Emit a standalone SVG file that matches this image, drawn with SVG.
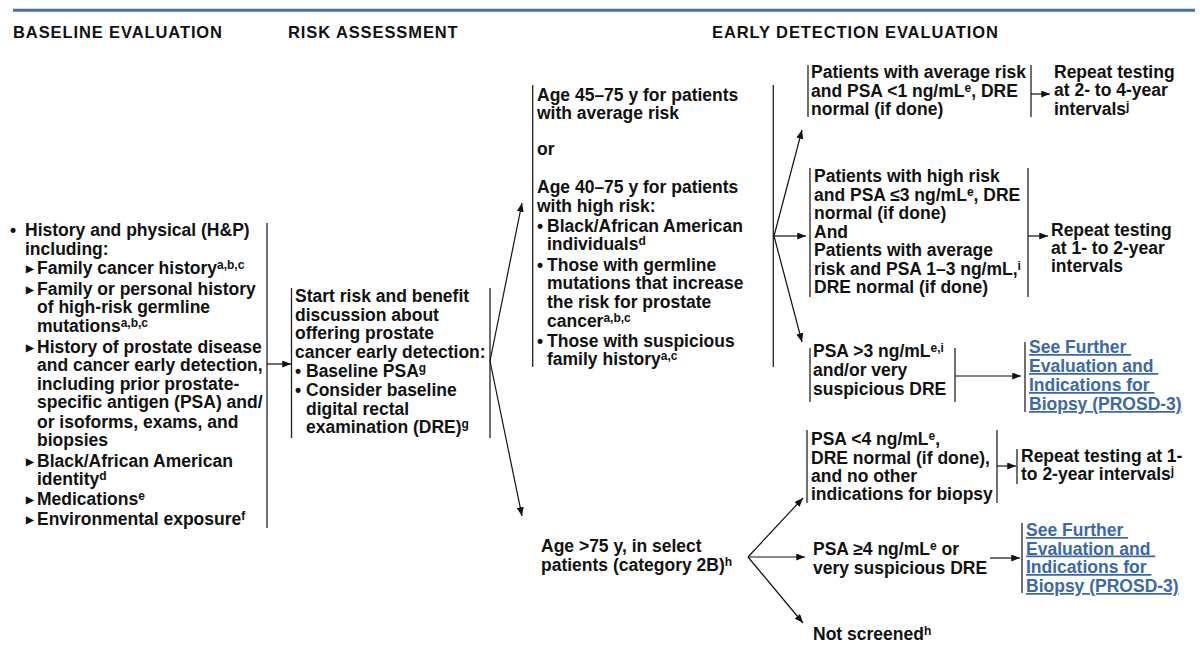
<svg xmlns="http://www.w3.org/2000/svg" width="1200" height="655" viewBox="0 0 1200 655">
<style>
text{font-family:"Liberation Sans",Arial,Helvetica,sans-serif;font-weight:bold;font-size:17.5px;fill:#111;}
.h{font-size:16.5px;letter-spacing:0.9px;}
.s{font-size:12px;}
.tri{font-size:9.5px;}
.lk{fill:#3a68a8;text-decoration:underline;}
.bar{stroke:#222;stroke-width:1.3;fill:none;}
.c{stroke:#111;stroke-width:1.2;fill:none;marker-end:url(#ah);}
</style>
<defs>
<marker id="ah" viewBox="0 0 10 8" markerWidth="9" markerHeight="7" refX="10" refY="4" orient="auto" markerUnits="userSpaceOnUse">
<path d="M0,0 L10,4 L0,8 z" fill="#111"/>
</marker>
</defs>
<rect width="1200" height="655" fill="#fff"/>
<line x1="13" y1="10.3" x2="1195" y2="10.3" stroke="#4a72a6" stroke-width="3"/>
<g id="headers">
<text class="h" x="13" y="38">BASELINE EVALUATION</text>
<text class="h" x="288" y="38">RISK ASSESSMENT</text>
<text class="h" x="712" y="38">EARLY DETECTION EVALUATION</text>
</g>
<g id="baseline-evaluation">
<line class="bar" x1="267" y1="223" x2="267" y2="528"/>
<text x="10" y="236">•</text><text x="25" y="236">History and physical (H&amp;P)</text>
<text x="25" y="255">including:</text>
<text class="tri" x="25.5" y="272">▶</text><text x="37" y="274">Family cancer history<tspan class="s" dy="-5">a,b,c</tspan></text>
<text class="tri" x="25.5" y="293">▶</text><text x="37" y="295">Family or personal history</text>
<text x="37" y="313">of high-risk germline</text>
<text x="37" y="332">mutations<tspan class="s" dy="-5">a,b,c</tspan></text>
<text class="tri" x="25.5" y="351">▶</text><text x="37" y="353">History of prostate disease</text>
<text x="37" y="371">and cancer early detection,</text>
<text x="37" y="390">including prior prostate-</text>
<text x="37" y="408">specific antigen (PSA) and/</text>
<text x="37" y="428">or isoforms, exams, and</text>
<text x="37" y="446">biopsies</text>
<text class="tri" x="25.5" y="465">▶</text><text x="37" y="467">Black/African American</text>
<text x="37" y="485">identity<tspan class="s" dy="-5">d</tspan></text>
<text class="tri" x="25.5" y="503">▶</text><text x="37" y="505">Medications<tspan class="s" dy="-5">e</tspan></text>
<text class="tri" x="25.5" y="523">▶</text><text x="37" y="525">Environmental exposure<tspan class="s" dy="-5">f</tspan></text>
</g>
<g id="risk-assessment">
<line class="bar" x1="291.5" y1="288" x2="291.5" y2="438"/>
<line class="bar" x1="490" y1="288" x2="490" y2="438"/>
<text x="295" y="302">Start risk and benefit</text>
<text x="295" y="321">discussion about</text>
<text x="295" y="339">offering prostate</text>
<text x="295" y="358">cancer early detection:</text>
<text x="295" y="377">•</text><text x="306" y="377">Baseline PSA<tspan class="s" dy="-5">g</tspan></text>
<text x="295" y="396">•</text><text x="306" y="396">Consider baseline</text>
<text x="306" y="415">digital rectal</text>
<text x="306" y="433">examination (DRE)<tspan class="s" dy="-5">g</tspan></text>
</g>
<g id="age-40-75">
<line class="bar" x1="532.7" y1="85" x2="532.7" y2="367"/>
<line class="bar" x1="773.3" y1="85" x2="773.3" y2="367"/>
<text x="537" y="100.7">Age 45–75 y for patients</text>
<text x="537" y="119.3">with average risk</text>
<text x="537" y="155">or</text>
<text x="537" y="193.3">Age 40–75 y for patients</text>
<text x="537" y="211.7">with high risk:</text>
<text x="537" y="231.7">•</text><text x="547" y="231.7">Black/African American</text>
<text x="547" y="250">individuals<tspan class="s" dy="-5">d</tspan></text>
<text x="537" y="270.7">•</text><text x="547" y="270.7">Those with germline</text>
<text x="547" y="289.3">mutations that increase</text>
<text x="547" y="308.3">the risk for prostate</text>
<text x="547" y="326.7">cancer<tspan class="s" dy="-5">a,b,c</tspan></text>
<text x="537" y="347.3">•</text><text x="547" y="347.3">Those with suspicious</text>
<text x="547" y="365">family history<tspan class="s" dy="-5">a,c</tspan></text>
</g>
<g id="avg-risk-low-psa">
<line class="bar" x1="808" y1="65" x2="808" y2="117"/>
<line class="bar" x1="1031" y1="65" x2="1031" y2="117"/>
<text x="811" y="78">Patients with average risk</text>
<text x="811" y="96.5">and PSA &lt;1 ng/mL<tspan class="s" dy="-5">e</tspan><tspan dy="5">, DRE</tspan></text>
<text x="811" y="115">normal (if done)</text>
</g>
<g id="repeat-2-4">
<text x="1054" y="77.5">Repeat testing</text>
<text x="1054" y="96">at 2- to 4-year</text>
<text x="1054" y="114.5">intervals<tspan class="s" dy="-5">j</tspan></text>
</g>
<g id="psa-le3">
<line class="bar" x1="810" y1="168" x2="810" y2="297"/>
<line class="bar" x1="1028" y1="168" x2="1028" y2="297"/>
<text x="814" y="182">Patients with high risk</text>
<text x="814" y="200.5">and PSA ≤3 ng/mL<tspan class="s" dy="-5">e</tspan><tspan dy="5">, DRE</tspan></text>
<text x="814" y="219">normal (if done)</text>
<text x="814" y="237.5">And</text>
<text x="814" y="256">Patients with average</text>
<text x="814" y="274.5">risk and PSA 1–3 ng/mL,<tspan class="s" dy="-5">i</tspan></text>
<text x="814" y="293">DRE normal (if done)</text>
</g>
<g id="repeat-1-2a">
<text x="1051" y="236">Repeat testing</text>
<text x="1051" y="254">at 1- to 2-year</text>
<text x="1051" y="272">intervals</text>
</g>
<g id="psa-gt3">
<line class="bar" x1="810" y1="348" x2="810" y2="402"/>
<line class="bar" x1="955" y1="348" x2="955" y2="402"/>
<text x="813" y="357">PSA &gt;3 ng/mL<tspan class="s" dy="-5">e,i</tspan></text>
<text x="813" y="376">and/or very</text>
<text x="813" y="395">suspicious DRE</text>
</g>
<g id="prosd3-a">
<line class="bar" x1="1025" y1="342" x2="1025" y2="412"/>
<text class="lk" x="1029" y="353">See Further&#160;</text>
<text class="lk" x="1029" y="372">Evaluation and&#160;</text>
<text class="lk" x="1029" y="391">Indications for&#160;</text>
<text class="lk" x="1029" y="410">Biopsy (PROSD-3)</text>
</g>
<g id="age-gt75">
<text x="541" y="551.7">Age &gt;75 y, in select</text>
<text x="541" y="570.7">patients (category 2B)<tspan class="s" dy="-5">h</tspan></text>
</g>
<g id="psa-lt4">
<line class="bar" x1="807" y1="430" x2="807" y2="503"/>
<line class="bar" x1="997" y1="430" x2="997" y2="503"/>
<text x="811" y="445">PSA &lt;4 ng/mL<tspan class="s" dy="-5">e</tspan><tspan dy="5">,</tspan></text>
<text x="811" y="463.5">DRE normal (if done),</text>
<text x="811" y="482">and no other</text>
<text x="811" y="500">indications for biopsy</text>
</g>
<g id="repeat-1-2b">
<line class="bar" x1="1017" y1="449" x2="1017" y2="484"/>
<text x="1021" y="462">Repeat testing at 1-</text>
<text x="1021" y="480">to 2-year intervals<tspan class="s" dy="-5">j</tspan></text>
</g>
<g id="psa-ge4">
<text x="813" y="555">PSA ≥4 ng/mL<tspan class="s" dy="-5">e</tspan><tspan dy="5"> or</tspan></text>
<text x="813" y="573.5">very suspicious DRE</text>
</g>
<g id="prosd3-b">
<line class="bar" x1="1022" y1="523" x2="1022" y2="593"/>
<text class="lk" x="1026" y="536">See Further&#160;</text>
<text class="lk" x="1026" y="554.5">Evaluation and&#160;</text>
<text class="lk" x="1026" y="573">Indications for&#160;</text>
<text class="lk" x="1026" y="592">Biopsy (PROSD-3)</text>
</g>
<g id="not-screened">
<text x="813" y="640">Not screened<tspan class="s" dy="-5">h</tspan></text>
</g>
<g id="connectors">
<line class="c" x1="267" y1="364" x2="291" y2="364"/>
<line class="c" x1="490" y1="361" x2="522" y2="203"/>
<line class="c" x1="490" y1="361" x2="522" y2="516"/>
<line class="c" x1="774" y1="236" x2="802" y2="130"/>
<line class="c" x1="774" y1="236" x2="806" y2="236"/>
<line class="c" x1="774" y1="236" x2="802" y2="342"/>
<line class="c" x1="1031" y1="94" x2="1050" y2="94"/>
<line class="c" x1="1028" y1="236" x2="1048" y2="236"/>
<line class="c" x1="955" y1="376" x2="1021" y2="376"/>
<line class="c" x1="997" y1="466" x2="1016" y2="466"/>
<line class="c" x1="748" y1="557" x2="803" y2="498"/>
<line class="c" x1="748" y1="557" x2="805" y2="557"/>
<line class="c" x1="748" y1="557" x2="803" y2="623"/>
<line class="c" x1="990" y1="558" x2="1020" y2="558"/>
</g>
</svg>
